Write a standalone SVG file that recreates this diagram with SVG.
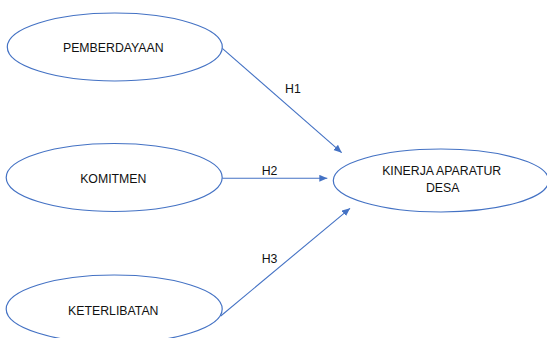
<svg xmlns="http://www.w3.org/2000/svg" width="547" height="338" viewBox="0 0 547 338">
<style>
.node ellipse{fill:#fff;stroke:#4472C4;stroke-width:1.2}
.lbl{font-family:"Liberation Sans",Arial,sans-serif;font-size:12.3px;fill:#111}
.conn line{stroke:#4472C4;stroke-width:1.1;marker-end:url(#arr)}
</style>
<defs>
<marker id="arr" markerUnits="userSpaceOnUse" markerWidth="9" markerHeight="8" refX="8" refY="3.5" orient="auto">
<path d="M0,0 L8,3.5 L0,7 z" fill="#4472C4"/>
</marker>
</defs>
<rect width="547" height="338" fill="#fff"/>
<g id="connectors" class="conn">
<line x1="222.3" y1="48.3" x2="341.7" y2="152.7"/>
<line x1="222.3" y1="178.3" x2="327.3" y2="178.3"/>
<line x1="220.7" y1="316" x2="350" y2="208.3"/>
<text class="lbl" x="285" y="93.3">H1</text>
<text class="lbl" x="261.7" y="175">H2</text>
<text class="lbl" x="261.7" y="263.3">H3</text>
</g>
<g id="pemberdayaan" class="node">
<ellipse cx="114.8" cy="47" rx="107.5" ry="34"/>
<text class="lbl" x="113.3" y="51.7" text-anchor="middle">PEMBERDAYAAN</text>
</g>
<g id="komitmen" class="node">
<ellipse cx="114.2" cy="177.5" rx="108" ry="34"/>
<text class="lbl" x="113.3" y="182.7" text-anchor="middle">KOMITMEN</text>
</g>
<g id="keterlibatan" class="node">
<ellipse cx="114.2" cy="309" rx="108" ry="34"/>
<text class="lbl" x="113.3" y="315" text-anchor="middle">KETERLIBATAN</text>
</g>
<g id="kinerja" class="node">
<ellipse cx="441" cy="180.5" rx="107.7" ry="31.5"/>
<text class="lbl" x="441.7" y="175" text-anchor="middle">KINERJA APARATUR</text>
<text class="lbl" x="442.7" y="191.7" text-anchor="middle">DESA</text>
</g>
</svg>
